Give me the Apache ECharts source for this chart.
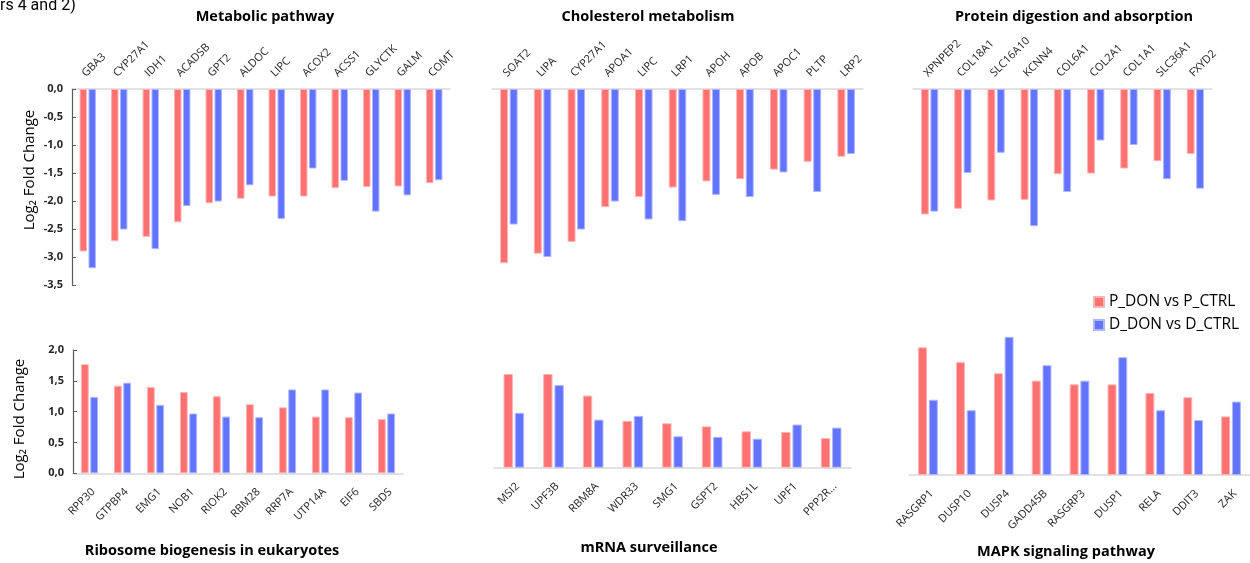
<!DOCTYPE html>
<html><head><meta charset="utf-8">
<script src="https://cdn.jsdelivr.net/npm/echarts@6/dist/echarts.min.js"></script>
<style>html,body{margin:0;padding:0;background:#fff}#c{width:1250px;height:563px}</style>
</head><body><div id="c"></div>
<script>
// ---- data ----
const seriesNames = ['P_DON vs P_CTRL', 'D_DON vs D_CTRL'];
const panelTitles = ['Metabolic pathway', 'Cholesterol metabolism', 'Protein digestion and absorption',
  'Ribosome biogenesis in eukaryotes', 'mRNA surveillance', 'MAPK signaling pathway'];

const metabolicGenes = ['GBA3','CYP27A1','IDH1','ACADSB','GPT2','ALDOC','LIPC','ACOX2','ACSS1','GLYCTK','GALM','COMT'];
const metabolicP = [-2.90,-2.72,-2.64,-2.38,-2.04,-1.96,-1.92,-1.92,-1.77,-1.75,-1.74,-1.68];
const metabolicD = [-3.20,-2.51,-2.86,-2.09,-2.01,-1.72,-2.32,-1.42,-1.64,-2.19,-1.90,-1.63];

const cholesterolGenes = ['SOAT2','LIPA','CYP27A1','APOA1','LIPC','LRP1','APOH','APOB','APOC1','PLTP','LRP2'];
const cholesterolP = [-3.11,-2.94,-2.73,-2.11,-1.93,-1.76,-1.65,-1.61,-1.44,-1.30,-1.21];
const cholesterolD = [-2.42,-3.00,-2.51,-2.01,-2.33,-2.36,-1.89,-1.93,-1.49,-1.84,-1.16];

const proteinGenes = ['XPNPEP2','COL18A1','SLC16A10','KCNN4','COL6A1','COL2A1','COL1A1','SLC36A1','FXYD2'];
const proteinP = [-2.24,-2.14,-1.99,-1.98,-1.52,-1.51,-1.42,-1.29,-1.16];
const proteinD = [-2.19,-1.50,-1.14,-2.45,-1.84,-0.92,-1.00,-1.61,-1.78];

const ribosomeGenes = ['RPP30','GTPBP4','EMG1','NOB1','RIOK2','RBM28','RRP7A','UTP14A','EIF6','SBDS'];
const ribosomeP = [1.77,1.42,1.40,1.32,1.25,1.12,1.07,0.92,0.91,0.88];
const ribosomeD = [1.24,1.47,1.11,0.97,0.92,0.91,1.36,1.36,1.31,0.97];

const mrnaGenes = ['MSI2','UPF3B','RBM8A','WDR33','SMG1','GSPT2','HBS1L','UPF1','PPP2R...'];
const mrnaP = [1.52,1.52,1.17,0.76,0.72,0.67,0.59,0.58,0.48];
const mrnaD = [0.89,1.34,0.78,0.84,0.51,0.50,0.47,0.70,0.65];

const mapkGenes = ['RASGRP1','DUSP10','DUSP4','GADD45B','RASGRP3','DUSP1','RELA','DDIT3','ZAK'];
const mapkP = [2.07,1.83,1.65,1.53,1.47,1.47,1.33,1.26,0.95];
const mapkD = [1.22,1.05,2.24,1.78,1.53,1.91,1.05,0.89,1.19];

const topTicks = [0, -0.5, -1, -1.5, -2, -2.5, -3, -3.5];
const bottomTicks = [0, 0.5, 1, 1.5, 2];

// ---- layout / style ----
const RED = '#FF7070', RED_B = '#FFB3B3';
const BLUE = '#6173FF', BLUE_B = '#AEB6FF';
const FONT = '"Open Sans", "Noto Sans", sans-serif';

const panels = [
  {genes: metabolicGenes, p: metabolicP, d: metabolicD, grid:{left:72, top:89, width:378, height:196}, top:true, showY:true, min:-3.5, max:0},
  {genes: cholesterolGenes, p: cholesterolP, d: cholesterolD, grid:{left:492, top:89, width:371, height:196}, top:true, showY:false, min:-3.5, max:0},
  {genes: proteinGenes, p: proteinP, d: proteinD, grid:{left:913, top:89, width:299, height:196}, top:true, showY:false, min:-3.5, max:0},
  {genes: ribosomeGenes, p: ribosomeP, d: ribosomeD, grid:{left:73, top:350, width:330, height:123.3}, top:false, showY:true, min:0, max:2},
  {genes: mrnaGenes, p: mrnaP, d: mrnaD, grid:{left:494, top:344.4, width:357, height:123.3}, top:false, showY:false, min:0, max:2},
  {genes: mapkGenes, p: mapkP, d: mapkD, grid:{left:909, top:320.8, width:341, height:154.2}, top:false, showY:false, min:0, max:2.5}
];

const grid = [], xAxis = [], yAxis = [], series = [];
panels.forEach((pn, i) => {
  grid.push(Object.assign({containLabel:false}, pn.grid));
  xAxis.push({
    type:'category', gridIndex:i, data: pn.genes, position: pn.top ? 'top' : 'bottom',
    axisLine:{show:true, onZero:false, lineStyle:{color:'#D9D9D9', width:1.5}},
    axisTick:{show:false},
    axisLabel: pn.top
      ? {show:false}
      : {interval:0, rotate:45, margin:13, align:'right', verticalAlign:'top', color:'#262626', fontFamily:FONT, fontSize:11}
  });
  yAxis.push({
    type:'value', gridIndex:i, min: pn.min, max: pn.max, interval:0.5,
    show: true,
    axisLine:{show: pn.showY, lineStyle:{color:'#595959', width:1.2}},
    axisTick:{show: pn.showY, inside:true, length:4, lineStyle:{color:'#595959'}},
    axisLabel:{show: pn.showY, fontFamily:FONT, fontSize:11, fontWeight:'bold', color:'#262626', margin:9,
      formatter: v => v.toFixed(1).replace('.', ',')},
    splitLine:{show:false}
  });
  [[pn.p, RED, RED_B, 0], [pn.d, BLUE, BLUE_B, 1]].forEach(([vals, c, bc, k]) => {
    series.push({
      type:'bar', name: seriesNames[k], xAxisIndex:i, yAxisIndex:i, data: vals,
      barCategoryGap:'48%', barGap:'20%',
      itemStyle:{color:c, borderColor:bc, borderWidth:1},
      emphasis:{disabled:true}, animation:false
    });
  });
});

function txt(text, x, y, font, rot, align, valign, fill) {
  return {type:'text', x, y, rotation: rot || 0, originX:0, originY:0, silent:true,
    style:{text, font, fill: fill || '#000',
           textAlign: align||'center', textVerticalAlign: valign||'middle'}};
}
const TF = 'bold 14.5px ' + FONT;
const graphics = [
  txt('rs 4 and 2)', 0, 14, '16px Roboto, "Liberation Sans", sans-serif', 0, 'left', 'bottom'),
  txt(panelTitles[0], 265, 17, TF),
  txt(panelTitles[1], 648, 17, TF),
  txt(panelTitles[2], 1074, 17, TF),
  txt(panelTitles[3], 212, 551, TF),
  txt(panelTitles[4], 649, 548, TF),
  txt(panelTitles[5], 1066, 552, TF),
  txt('Log\u2082 Fold Change', 30, 170, '15px ' + FONT, Math.PI/2),
  txt('Log\u2082 Fold Change', 20, 419, '15px ' + FONT, Math.PI/2)
];

const chart = echarts.init(document.getElementById('c'), null, {renderer:'canvas'});
const baseOption = {
  animation:false,
  backgroundColor:'#fff',
  grid, xAxis, yAxis, series,
  legend:{
    data: seriesNames, orient:'vertical', left:1093, top:294, padding:0, itemWidth:10, itemHeight:10, itemGap:7,
    icon:'rect', textStyle:{fontFamily:FONT, fontSize:15.5, color:'#000'}, selectedMode:false
  }
};
chart.setOption(baseOption);

// category labels of the top panels, placed through the library's own axis scales
const topLabels = [];
[0, 1, 2].forEach(i => {
  const y0 = chart.convertToPixel({yAxisIndex: i}, 0);
  panels[i].genes.forEach((g, j) => {
    const x = chart.convertToPixel({xAxisIndex: i}, j);
    topLabels.push(txt(g, x, y0 - 10, '11px ' + FONT, Math.PI / 4, 'left', 'bottom', '#262626'));
  });
});
baseOption.graphic = {elements: graphics.concat(topLabels)};
chart.setOption(baseOption, true);
</script>
</body></html>
